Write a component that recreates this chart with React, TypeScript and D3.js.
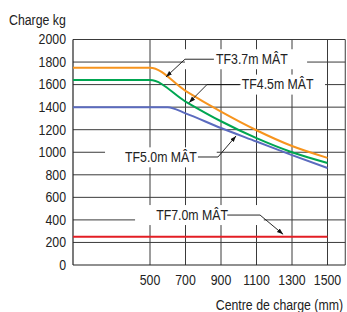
import React from "react"
import * as d3 from "d3"

const WIDTH = 347
const HEIGHT = 312
const FONT = "'Liberation Sans', Arial, sans-serif"
const SQUEEZE = 0.85 // fake a condensed face

const Y_TICKS = [0, 200, 400, 600, 800, 1000, 1200, 1400, 1600, 1800, 2000]
const X_TICKS = [500, 700, 900, 1100, 1300, 1500]

// load centre (mm) / capacity (kg)
const orange37 = [
    [0, 1750], [500, 1750], [700, 1545], [900, 1360], [1100, 1195], [1300, 1055], [1500, 950],
]
const green45 = [
    [0, 1640], [500, 1640], [700, 1450], [900, 1275], [1100, 1125], [1300, 1000], [1500, 905],
]
const blue50 = [
    [0, 1400], [600, 1400], [700, 1345], [900, 1215], [1100, 1095], [1300, 975], [1500, 860],
]
const red70 = [
    [0, 250], [1500, 250],
]

const SERIES = [
    { name: "TF3.7", color: "#f7941d", data: orange37 },
    { name: "TF4.5", color: "#00a651", data: green45 },
    { name: "TF5.0", color: "#5b6bbf", data: blue50 },
    { name: "TF7.0", color: "#e31e24", data: red70 },
]

// annotation labels: text start, leader (start, elbow, tip), white box span - all in data units
const LABELS = [
    { text: "TF3.7m MÂT", tx: 872, ty: 1825, leader: [[860, 1825], [697, 1825], [590, 1668]], box: [697, 1385] },
    { text: "TF4.5m MÂT", tx: 1017, ty: 1600, leader: [[1010, 1600], [821, 1600], [720, 1440]], box: [1005, 1486] },
    { text: "TF5.0m MÂT", tx: 338, ty: 955, leader: [[770, 958], [883, 958], [985, 1145]], box: [208, 876] },
    { text: "TF7.0m MÂT", tx: 535, ty: 443, leader: [[935, 443], [1120, 443], [1250, 272]], box: [403, 1141] },
]

const Label = ({ x, y, anchor = "start", children }: { x: number; y: number; anchor?: string; children: React.ReactNode }) => (
    <g transform={`translate(${x},${y}) scale(${SQUEEZE},1)`}>
        <text textAnchor={anchor} dominantBaseline="central" fontSize={14.5} fill="#222">
            {children}
        </text>
    </g>
)

export default function App() {
    const x = d3.scaleLinear().domain([0, 500, 1600]).range([73, 150, 345.25])
    const y = d3.scaleLinear().domain([0, 2000]).range([265, 39.5])

    const line = d3
        .line<number[]>()
        .x((d) => x(d[0]))
        .y((d) => y(d[1]))
        .curve(d3.curveMonotoneX)

    const leaderLine = d3
        .line<number[]>()
        .x((d) => x(d[0]))
        .y((d) => y(d[1]))

    return (
        <svg
            width={WIDTH}
            height={HEIGHT}
            style={{ position: "absolute", left: 0, top: 0, background: "#fff" }}
            fontFamily={FONT}
        >
            <defs>
                <marker id="arr" viewBox="0 0 10 10" refX="10" refY="5" markerWidth="7" markerHeight="7" orient="auto">
                    <path d="M0,1.5 L10,5 L0,8.5 z" fill="#111" />
                </marker>
            </defs>

            {/* grid */}
            {Y_TICKS.slice(1).map((v) => (
                <line key={"h" + v} x1={x(0)} x2={x(1600)} y1={y(v)} y2={y(v)} stroke="#3a3a3a" strokeWidth={1} />
            ))}
            {[...X_TICKS, 1600].map((v) => (
                <line key={"v" + v} x1={x(v)} x2={x(v)} y1={y(2000)} y2={y(0)} stroke="#3a3a3a" strokeWidth={1} />
            ))}

            {/* label backgrounds cut the grid */}
            {LABELS.map((l) => (
                <rect
                    key={"b" + l.text}
                    x={x(l.box[0])}
                    y={y(l.ty) - 10}
                    width={x(l.box[1]) - x(l.box[0])}
                    height={20}
                    fill="#fff"
                />
            ))}

            {/* axes */}
            <line x1={x(0)} x2={x(0)} y1={y(2000)} y2={y(0)} stroke="#222" strokeWidth={1.2} />
            <line x1={x(0)} x2={x(1600)} y1={y(0)} y2={y(0)} stroke="#222" strokeWidth={1.2} />

            {SERIES.map((s) => (
                <path key={s.name} d={line(s.data) || ""} fill="none" stroke={s.color} strokeWidth={2} />
            ))}

            {LABELS.map((l) => (
                <g key={l.text}>
                    <path d={leaderLine(l.leader) || ""} fill="none" stroke="#111" strokeWidth={0.9} markerEnd="url(#arr)" />
                    <Label x={x(l.tx)} y={y(l.ty)}>{l.text}</Label>
                </g>
            ))}

            {Y_TICKS.map((v) => (
                <Label key={"yt" + v} x={66} y={y(v)} anchor="end">{v}</Label>
            ))}
            {X_TICKS.map((v) => (
                <Label key={"xt" + v} x={x(v)} y={280} anchor="middle">{v}</Label>
            ))}

            <Label x={9} y={20}>Charge kg</Label>
            <Label x={343} y={305} anchor="end">Centre de charge (mm)</Label>
        </svg>
    )
}
